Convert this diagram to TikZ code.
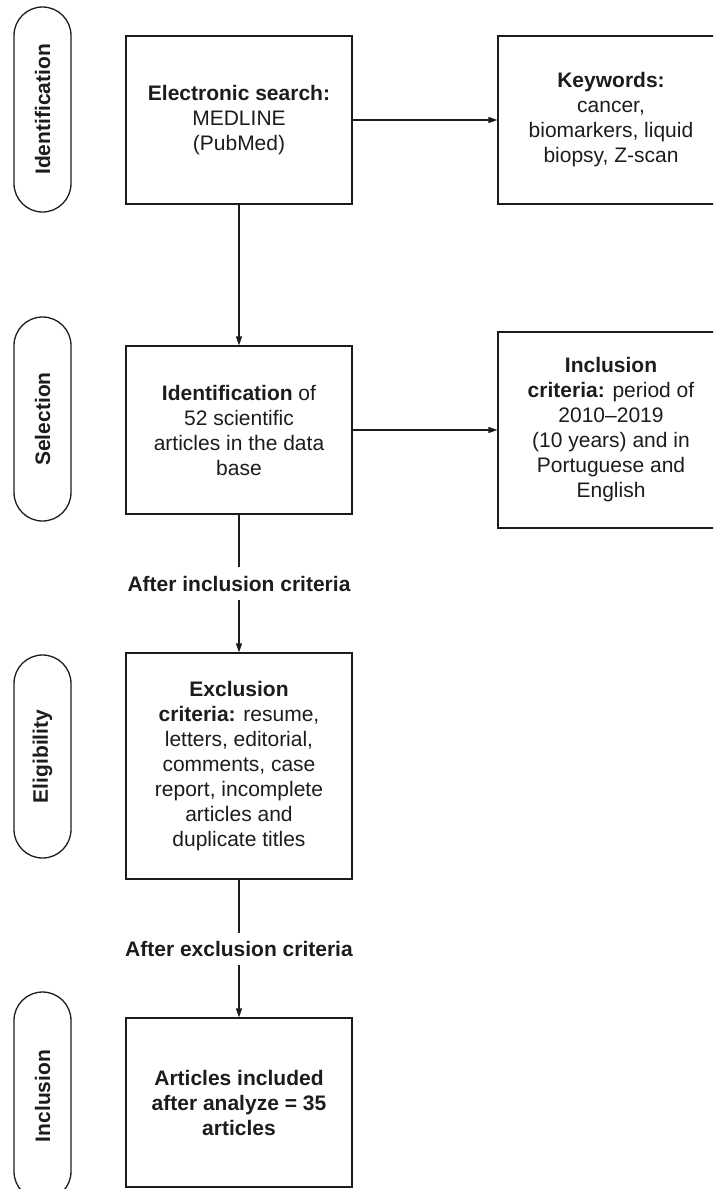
\documentclass[tikz,border=0pt]{standalone}
\usepackage{fontspec}
\setmainfont{Liberation Sans}
\usetikzlibrary{arrows.meta}
\definecolor{ink}{RGB}{30,27,28}
\begin{document}
\begin{tikzpicture}[x=1pt,y=1pt,
  every node/.style={text=ink},
  box/.style={draw=ink, line width=1.3pt, minimum width=226pt, align=center, inner sep=0pt, font=\fontsize{21}{25}\selectfont},
  phase/.style={draw=ink, line width=1.3pt, rounded corners=28.5pt, rotate=90, minimum height=57pt, inner sep=0pt, font=\bfseries\fontsize{21}{25}\selectfont},
  lbl/.style={inner sep=0pt, align=center, font=\bfseries\fontsize{21}{25}\selectfont},
  conn/.style={draw=ink, line width=1.3pt},
  arr/.style={conn, -{Triangle[length=9pt,width=6pt]}}]
\useasboundingbox (0,0) rectangle (713,-1189);
\clip (0,0) rectangle (713,-1189);
% phase labels
\node[phase, minimum width=205pt] (p1) at (42.5,-109.5) {Identification};
\node[phase, minimum width=204pt] (p2) at (42.5,-419) {Selection};
\node[phase, minimum width=203pt] (p3) at (42.5,-756.5) {Eligibility};
\node[phase, minimum width=208pt] (p4) at (42.5,-1096) {Inclusion};
% boxes
\node[box, minimum height=168pt] (b1) at (239,-120) {\textbf{Electronic search:}\\MEDLINE\\(PubMed)};
\node[box, minimum height=168pt] (kw) at (611,-120) {\textbf{Keywords:}\\cancer,\\biomarkers, liquid\\biopsy, Z-scan};
\node[box, minimum height=168pt] (b2) at (239,-430) {\textbf{Identification} of\\52 scientific\\articles in the data\\base};
\node[box, minimum height=196pt] (inc) at (611,-430) {\textbf{Inclusion}\\\textbf{criteria:} period of\\2010–2019\\(10 years) and in\\Portuguese and\\English};
\node[box, minimum height=226pt] (b3) at (239,-766) {\textbf{Exclusion}\\\textbf{criteria:} resume,\\letters, editorial,\\comments, case\\report, incomplete\\articles and\\duplicate titles};
\node[box, minimum height=169pt] (b4) at (239,-1102.5) {\textbf{Articles included}\\\textbf{after analyze = 35}\\\textbf{articles}};
% connector labels
\node[lbl, minimum height=33pt] (l1) at (239,-583.5) {After inclusion criteria};
\node[lbl, minimum height=32pt] (l2) at (239,-949) {After exclusion criteria};
% connectors
\draw[arr] (b1) -- (kw);
\draw[arr] (b1) -- (b2);
\draw[arr] (b2) -- (inc);
\draw[conn] (b2) -- (l1);
\draw[arr] (l1) -- (b3);
\draw[conn] (b3) -- (l2);
\draw[arr] (l2) -- (b4);
\end{tikzpicture}
\end{document}
